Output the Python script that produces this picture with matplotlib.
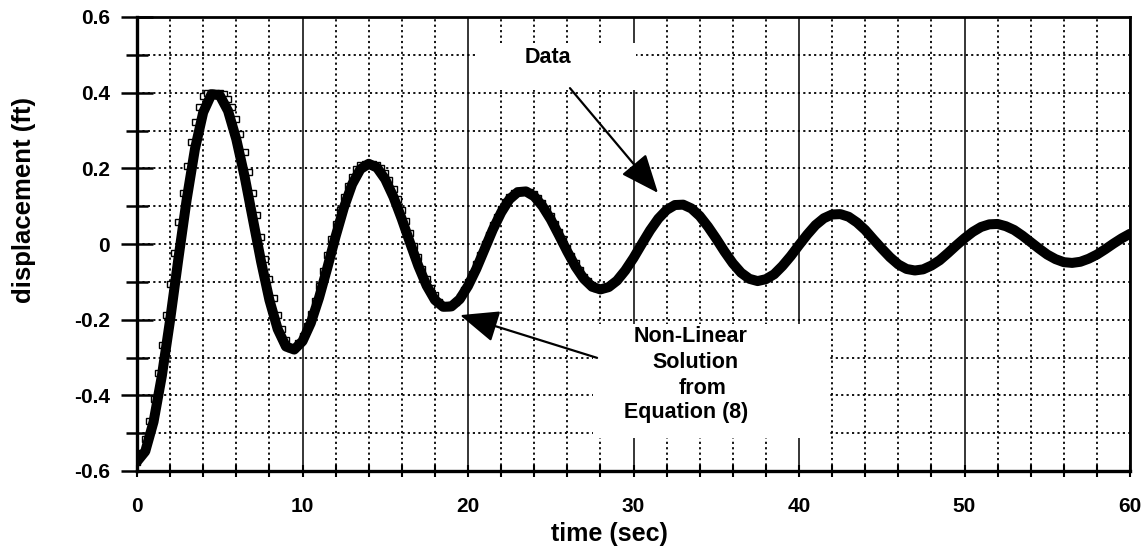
import numpy as np
import matplotlib
matplotlib.use('Agg')
import matplotlib.pyplot as plt
from matplotlib.patches import Rectangle

plt.rcParams['font.family'] = ['Liberation Sans', 'DejaVu Sans']
plt.rcParams['font.weight'] = 'bold'
plt.rcParams['axes.unicode_minus'] = False

# ---------------- data ----------------
data_t = np.arange(0, 60.001, 0.5)          # sample times (sec)
data_y = [
    -0.575, -0.548, -0.470, -0.349, -0.201, -0.039, 0.117, 0.251, 0.348, 0.396,
    0.393, 0.352, 0.277, 0.179, 0.066, -0.047, -0.148, -0.225, -0.271, -0.279,
    -0.257, -0.209, -0.142, -0.063, 0.020, 0.096, 0.158, 0.198, 0.212, 0.202,
    0.171, 0.124, 0.066, 0.003, -0.058, -0.110, -0.148, -0.166, -0.165, -0.146,
    -0.111, -0.066, -0.014, 0.038, 0.083, 0.118, 0.137, 0.139, 0.126, 0.100,
    0.065, 0.023, -0.020, -0.060, -0.092, -0.113, -0.120, -0.114, -0.097, -0.070,
    -0.037, 0.000, 0.036, 0.067, 0.090, 0.103, 0.104, 0.094, 0.074, 0.046,
    0.014, -0.020, -0.051, -0.076, -0.092, -0.098, -0.093, -0.080, -0.058, -0.032,
    -0.003, 0.025, 0.050, 0.068, 0.078, 0.079, 0.072, 0.057, 0.037, 0.012,
    -0.012, -0.035, -0.054, -0.066, -0.070, -0.067, -0.057, -0.043, -0.024, -0.004,
    0.015, 0.032, 0.045, 0.052, 0.053, 0.047, 0.037, 0.022, 0.005, -0.012,
    -0.028, -0.040, -0.048, -0.050, -0.047, -0.039, -0.028, -0.014, 0.001, 0.015,
    0.027,
]

solution_t = np.arange(0, 28.001, 0.25)     # sample times (sec)
solution_y = [
    -0.575, -0.552, -0.516, -0.468, -0.410, -0.342, -0.267, -0.188, -0.106, -0.023,
    0.058, 0.135, 0.206, 0.269, 0.322, 0.363, 0.392, 0.400, 0.400, 0.400,
    0.400, 0.396, 0.383, 0.363, 0.330, 0.290, 0.243, 0.191, 0.135, 0.077,
    0.018, -0.039, -0.093, -0.144, -0.188, -0.225, -0.254, -0.275, -0.275, -0.262,
    -0.243, -0.217, -0.186, -0.151, -0.112, -0.072, -0.030, 0.012, 0.052, 0.090,
    0.124, 0.154, 0.178, 0.197, 0.209, 0.212, 0.212, 0.212, 0.210, 0.201,
    0.187, 0.168, 0.146, 0.120, 0.091, 0.060, 0.028, -0.004, -0.035, -0.065,
    -0.092, -0.116, -0.136, -0.152, -0.163, -0.166, -0.162, -0.153, -0.139, -0.122,
    -0.101, -0.078, -0.054, -0.028, -0.001, 0.025, 0.049, 0.072, 0.093, 0.110,
    0.124, 0.134, 0.139, 0.140, 0.140, 0.137, 0.131, 0.121, 0.108, 0.092,
    0.074, 0.054, 0.033, 0.012, -0.010, -0.031, -0.051, -0.070, -0.086, -0.099,
    -0.109, -0.117, -0.120,
]

x_major = [0, 10, 20, 30, 40, 50, 60]
x_labels = ['0', '10', '20', '30', '40', '50', '60']
x_minor = list(range(0, 61, 2))
y_major = [-0.6, -0.4, -0.2, 0.0, 0.2, 0.4, 0.6]
y_labels = ['-0.6', '-0.4', '-0.2', '0', '0.2', '0.4', '0.6']
y_minor = [-0.5, -0.3, -0.1, 0.1, 0.3, 0.5]

# ---------------- figure ----------------
W, H = 1148, 554
fig = plt.figure(figsize=(W / 100, H / 100), dpi=100)
ax = fig.add_axes([137 / W, 1 - 471 / H, (1130 - 137) / W, (471 - 17) / H])
ax.set_xlim(0, 60)
ax.set_ylim(-0.6, 0.6)

dot = (0, (1.2, 1.8))
ax.set_xticks(x_major)
ax.set_xticklabels(x_labels)
ax.set_xticks(x_minor, minor=True)
ax.set_yticks(y_major)
ax.set_yticklabels(y_labels)
ax.set_yticks(y_minor, minor=True)

ax.set_axisbelow(True)
ax.grid(True, which='major', axis='x', color='black', lw=1.1, ls='-')
ax.grid(True, which='minor', axis='x', color='black', lw=1.3, ls=dot)
ax.grid(True, which='both', axis='y', color='black', lw=1.3, ls=dot)

ax.tick_params(axis='x', which='both', direction='inout', length=8, width=1.5,
               pad=14.5, labelsize=15, colors='black')
ax.tick_params(axis='y', which='major', direction='inout', length=23, width=1.8,
               pad=8.0, labelsize=15)
ax.tick_params(axis='y', which='minor', direction='inout', length=16, width=1.8)
for lab in ax.get_xticklabels() + ax.get_yticklabels():
    lab.set_fontweight('bold')

for side, lw in [('left', 2.4), ('bottom', 2.4), ('top', 2.0), ('right', 2.0)]:
    ax.spines[side].set_linewidth(lw)
    ax.spines[side].set_color('black')

ax.set_xlabel('time (sec)', fontsize=18, fontweight='bold')
ax.set_ylabel('displacement (ft)', fontsize=18.5, fontweight='bold')
ax.xaxis.set_label_coords(0.476, -0.112)
ax.yaxis.set_label_coords(-0.102, 0.597)

# white label boxes that hide the grid
ax.add_patch(Rectangle((20.6, 0.407), 9.55, 0.124, facecolor='white',
                       edgecolor='none', zorder=1))
ax.add_patch(Rectangle((27.55, -0.513), 14.32, 0.302, facecolor='white',
                       edgecolor='none', zorder=1))

# series
ax.plot(solution_t, solution_y, ls='none', marker='s', ms=4.3, mfc='white',
        mec='black', mew=1.0, zorder=2)
ax.plot(data_t, data_y, color='black', lw=7.2, solid_joinstyle='round',
        solid_capstyle='round', zorder=3)

# annotations
fs_note = 15.5
arrow = dict(arrowstyle='-|>,head_length=1.2,head_width=0.5', color='black',
             lw=1.6, mutation_scale=20, shrinkA=0, shrinkB=0)
ax.text(24.83, 0.492, 'Data', ha='center', va='center', fontsize=fs_note,
        fontweight='bold', zorder=5)
ax.annotate('', xy=(31.48, 0.135), xytext=(26.16, 0.412), arrowprops=arrow,
            zorder=5)
ax.text(33.42, -0.244, 'Non-Linear', ha='center', va='center', fontsize=fs_note,
        fontweight='bold', zorder=5)
ax.text(33.72, -0.313, 'Solution', ha='center', va='center', fontsize=fs_note,
        fontweight='bold', zorder=5)
ax.text(34.2, -0.382, 'from', ha='center', va='center', fontsize=fs_note,
        fontweight='bold', zorder=5)
ax.text(33.18, -0.446, 'Equation (8)', ha='center', va='center', fontsize=fs_note,
        fontweight='bold', zorder=5)
ax.annotate('', xy=(19.52, -0.188), xytext=(27.8, -0.301), arrowprops=arrow,
            zorder=5)

fig.savefig('out.png', dpi=100, facecolor='white')
